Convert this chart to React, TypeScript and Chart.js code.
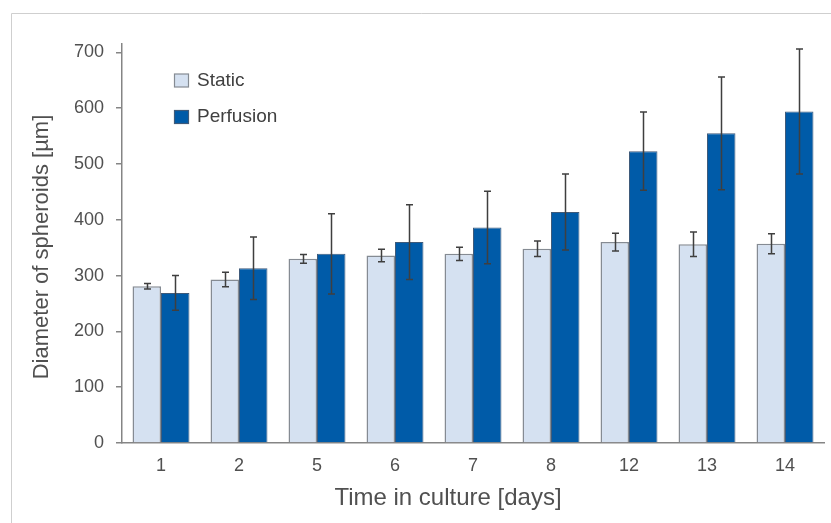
import React, { useEffect, useRef } from "react";
import { Chart, registerables } from "chart.js";

Chart.register(...registerables);

const categories = ["1", "2", "5", "6", "7", "8", "12", "13", "14"];
const staticValues = [281, 293, 330, 336, 339, 348, 360, 356, 357];
const staticErrors = [5, 13, 8, 11, 12, 14, 16, 22, 18];
const perfusionValues = [269, 313, 339, 360, 386, 414, 523, 555, 594];
const perfusionErrors = [31, 56, 72, 67, 65, 68, 70, 101, 112];
const yTickValues = [0, 100, 200, 300, 400, 500, 600, 700];
const xTitle = "Time in culture [days]";
const yTitle = "Diameter of spheroids [µm]";

const errorsByDataset = [staticErrors, perfusionErrors];

const frameAndErrorPlugin = {
  id: "frameAndErrors",
  beforeDraw(chart: any) {
    const ctx = chart.ctx;
    ctx.save();
    ctx.strokeStyle = "#cfcfcf";
    ctx.lineWidth = 1;
    ctx.beginPath();
    ctx.moveTo(11.5, chart.height);
    ctx.lineTo(11.5, 13.5);
    ctx.lineTo(chart.width, 13.5);
    ctx.stroke();
    ctx.restore();
  },
  afterDatasetsDraw(chart: any) {
    const ctx = chart.ctx;
    const yScale = chart.scales.y;
    ctx.save();
    ctx.strokeStyle = "#3f3f3f";
    ctx.lineWidth = 1.5;
    chart.data.datasets.forEach((ds: any, di: number) => {
      const meta = chart.getDatasetMeta(di);
      const errs = errorsByDataset[di];
      meta.data.forEach((bar: any, i: number) => {
        const v = ds.data[i];
        const e = errs[i];
        const x = Math.round(bar.x) + 0.5;
        const yTop = yScale.getPixelForValue(v + e);
        const yBot = yScale.getPixelForValue(v - e);
        const cap = 3.5;
        ctx.beginPath();
        ctx.moveTo(x, yTop);
        ctx.lineTo(x, yBot);
        ctx.moveTo(x - cap, yTop);
        ctx.lineTo(x + cap, yTop);
        ctx.moveTo(x - cap, yBot);
        ctx.lineTo(x + cap, yBot);
        ctx.stroke();
      });
    });
    ctx.restore();
  },
  afterDraw(chart: any) {
    const ctx = chart.ctx;
    ctx.save();
    const items = chart.data.datasets;
    const ys = [80.5, 117];
    items.forEach((ds: any, i: number) => {
      const y = ys[i];
      ctx.fillStyle = ds.backgroundColor;
      ctx.strokeStyle = ds.borderColor;
      ctx.lineWidth = 1.2;
      ctx.fillRect(174.5, y - 6.5, 14, 13);
      ctx.strokeRect(174.5, y - 6.5, 14, 13);
      ctx.fillStyle = "#404040";
      ctx.font = "19px 'Liberation Sans', Arial";
      ctx.textBaseline = "middle";
      ctx.textAlign = "left";
      ctx.fillText(ds.label, 197, y);
    });

    ctx.fillStyle = "#505050";
    ctx.textBaseline = "middle";
    ctx.textAlign = "center";
    ctx.font = "24px 'Liberation Sans', Arial";
    ctx.fillText(xTitle, 448, 498);

    ctx.translate(42, 247);
    ctx.rotate(-Math.PI / 2);
    ctx.font = "22px 'Liberation Sans', Arial";
    ctx.fillText(yTitle, 0, 0);
    ctx.restore();
  },
};

export default function App() {
  const canvasRef = useRef<HTMLCanvasElement | null>(null);

  useEffect(() => {
    const canvas = canvasRef.current;
    if (!canvas) return;
    const chart = new Chart(canvas, {
      type: "bar",
      data: {
        labels: categories,
        datasets: [
          {
            label: "Static",
            data: staticValues,
            backgroundColor: "#d5e1f1",
            borderColor: "#858b93",
            borderWidth: 1.5,
            categoryPercentage: 0.73,
            barPercentage: 1,
          },
          {
            label: "Perfusion",
            data: perfusionValues,
            backgroundColor: "#005ba8",
            borderColor: "#3e5a7a",
            borderWidth: 1,
            categoryPercentage: 0.73,
            barPercentage: 1,
          },
        ],
      },
      options: {
        responsive: false,
        animation: false,
        devicePixelRatio: 1,
        layout: { padding: { top: 44, right: 7, left: 0, bottom: 0 } },
        plugins: {
          legend: { display: false },
          tooltip: { enabled: false },
        },
        scales: {
          x: {
            grid: { display: false, drawTicks: false },
            border: { display: true, color: "#858585", width: 1.5 },
            ticks: {
              color: "#505050",
              font: { family: "'Liberation Sans', Arial", size: 18 },
              padding: 12,
            },
            title: { display: false, text: xTitle },
            afterFit(scale: any) {
              scale.height = 80;
            },
          },
          y: {
            min: 0,
            max: 715,
            grid: {
              drawOnChartArea: false,
              drawTicks: true,
              tickLength: 6,
              color: "#858585",
              lineWidth: 1.5,
            },
            border: { display: true, color: "#858585", width: 1.5 },
            ticks: {
              stepSize: 100,
              color: "#505050",
              font: { family: "'Liberation Sans', Arial", size: 18 },
              padding: 12,
            },
            afterBuildTicks(scale: any) {
              scale.ticks = yTickValues.map((v) => ({ value: v }));
            },
            title: { display: false, text: yTitle },
            afterFit(scale: any) {
              scale.width = 122;
            },
          },
        },
      },
      plugins: [frameAndErrorPlugin],
    } as any);
    return () => chart.destroy();
  }, []);

  return (
    <div style={{ position: "fixed", left: 0, top: 0, width: 831, height: 523, background: "#fff" }}>
      <canvas ref={canvasRef} width={831} height={523} style={{ display: "block" }} />
    </div>
  );
}
